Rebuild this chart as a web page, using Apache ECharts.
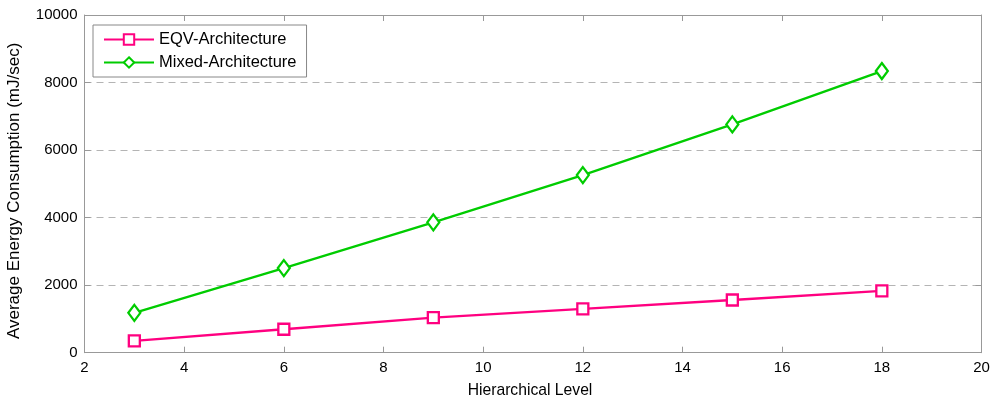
<!DOCTYPE html>
<html><head><meta charset="utf-8">
<script src="https://cdn.jsdelivr.net/npm/echarts@6/dist/echarts.min.js"></script>
<style>html,body{margin:0;padding:0;background:#fff}#c{width:1000px;height:404px}</style>
</head><body><div id="c"></div>
<script>
const levels = [3, 6, 9, 12, 15, 18];
const eqv = [350, 695, 1040, 1300, 1560, 1830];
const mixed = [1180, 2505, 3860, 5260, 6760, 8340];
const seriesNames = ['EQV-Architecture', 'Mixed-Architecture'];
const xName = 'Hierarchical Level';
const yName = 'Average Energy Consumption (mJ/sec)';

const font = 'Liberation Sans, Arial, sans-serif';
const axisCol = '#999';
const chart = echarts.init(document.getElementById('c'), null, {renderer: 'canvas'});
const mkX = (pos, show) => ({
  type: 'value', position: pos, min: 2, max: 20, interval: 2,
  axisLine: {show: true, onZero: false, lineStyle: {color: axisCol, width: 1}},
  axisTick: {show: true, inside: true, length: 6, lineStyle: {color: axisCol}},
  axisLabel: {show: show, color: '#000', fontSize: 15, fontFamily: font, margin: 8},
  splitLine: {show: false},
  name: show ? xName : '', nameLocation: 'middle', nameGap: 30,
  nameTextStyle: {color: '#000', fontSize: 15.7, fontFamily: font, padding: [0, 6, 0, 0]}
});
const mkY = (pos, show) => ({
  type: 'value', position: pos, min: 0, max: 10000, interval: 2000,
  axisLine: {show: true, onZero: false, lineStyle: {color: axisCol, width: 1}},
  axisTick: {show: true, inside: true, length: 6, lineStyle: {color: axisCol}},
  axisLabel: {show: show, color: '#000', fontSize: 15, fontFamily: font, margin: 7,
              formatter: v => String(v)},
  splitLine: {show: show, lineStyle: {color: '#b4b4b4', type: [7, 5], width: 1}},
  name: show ? yName : '', nameLocation: 'middle', nameGap: 62,
  nameTextStyle: {color: '#000', fontSize: 17, fontFamily: font, padding: [0, 14, 0, 0]}
});
chart.setOption({
  animation: false,
  backgroundColor: '#fff',
  grid: {left: 84.5, right: 18.5, top: 15, bottom: 51.3, containLabel: false, outerBoundsMode: 'none'},
  xAxis: [mkX('bottom', true), mkX('top', false)],
  yAxis: [mkY('left', true), mkY('right', false)],
  legend: {
    orient: 'vertical', left: 93, top: 25, padding: [6, 10, 6, 10],
    itemWidth: 50, itemHeight: 13, itemGap: 6,
    backgroundColor: '#fff', borderColor: '#888', borderWidth: 1,
    textStyle: {color: '#000', fontSize: 16.5, fontFamily: font},
    data: seriesNames
  },
  series: [
    {name: seriesNames[0], type: 'line', data: levels.map((x, i) => [x, eqv[i]]),
     symbol: 'rect', symbolSize: 11, showAllSymbol: true,
     lineStyle: {color: '#ff0080', width: 2.3},
     itemStyle: {color: '#fff', borderColor: '#ff0080', borderWidth: 2.3}},
    {name: seriesNames[1], type: 'line', data: levels.map((x, i) => [x, mixed[i]]),
     symbol: 'diamond', symbolSize: [12, 16], showAllSymbol: true,
     lineStyle: {color: '#00cc00', width: 2.3},
     itemStyle: {color: '#fff', borderColor: '#00cc00', borderWidth: 2.3}}
  ]
});
</script></body></html>
